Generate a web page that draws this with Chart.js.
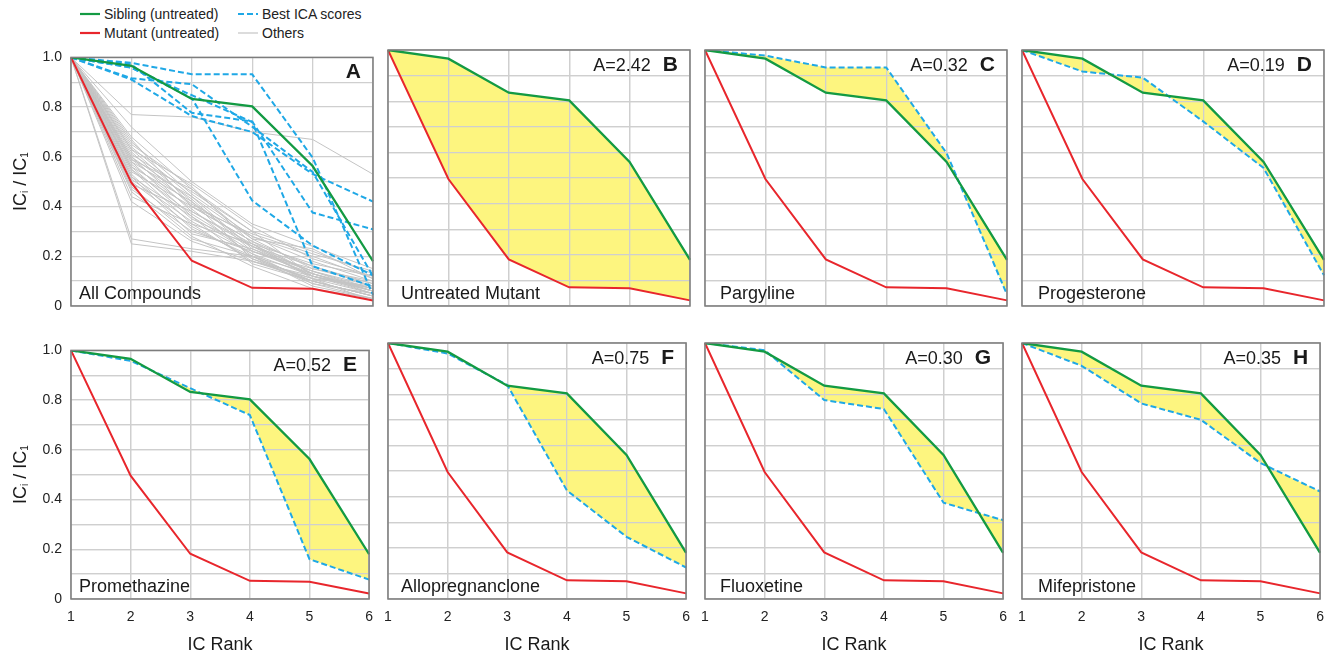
<!DOCTYPE html>
<html><head><meta charset="utf-8">
<script src="https://cdn.jsdelivr.net/npm/chart.js@4.4.1/dist/chart.umd.min.js"></script>
<style>
body{margin:0;background:#fff;width:1333px;height:655px;overflow:hidden;position:relative;font-family:"Liberation Sans",Arial,sans-serif;}
canvas{position:absolute;}
.leg{position:absolute;font-size:14px;color:#222;line-height:16px;white-space:nowrap;height:16px;}
.leg svg{display:inline-block;vertical-align:top;margin-right:4px;}
</style></head><body>
<div class="leg" style="left:80px;top:6px"><svg width="20" height="16"><line x1="0" y1="8" x2="20" y2="8" stroke="#139a43" stroke-width="2.2"/></svg>Sibling (untreated)</div>
<div class="leg" style="left:80px;top:25px"><svg width="20" height="16"><line x1="0" y1="8" x2="20" y2="8" stroke="#e8262c" stroke-width="2.2"/></svg>Mutant (untreated)</div>
<div class="leg" style="left:238px;top:6px"><svg width="20" height="16"><line x1="0" y1="8" x2="20" y2="8" stroke="#1fa8e6" stroke-width="2.2" stroke-dasharray="6 3"/></svg>Best ICA scores</div>
<div class="leg" style="left:238px;top:25px"><svg width="20" height="16"><line x1="0" y1="8" x2="20" y2="8" stroke="#c4c4c4" stroke-width="1.2"/></svg>Others</div>
<script>
// ---------- data ----------
const ranks = ['1', '2', '3', '4', '5', '6'];
const yTickLabels = ['0', '0.2', '0.4', '0.6', '0.8', '1.0'];
const sibling = [1, 0.966, 0.833, 0.803, 0.563, 0.18];
const mutant = [1, 0.496, 0.182, 0.073, 0.069, 0.022];
const pargyline = [1, 0.978, 0.932, 0.932, 0.597, 0.045];
const progesterone = [1, 0.916, 0.892, 0.721, 0.539, 0.12];
const promethazine = [1, 0.958, 0.848, 0.74, 0.16, 0.078];
const allopregnanolone = [1, 0.959, 0.836, 0.424, 0.243, 0.123];
const fluoxetine = [1, 0.972, 0.777, 0.742, 0.376, 0.308];
const mifepristone = [1, 0.911, 0.764, 0.70, 0.531, 0.42];
const others = [
  [1, 0.77, 0.76, 0.70, 0.67, 0.53],
  [1, 0.27, 0.23, 0.20, 0.13, 0.06],
  [1, 0.25, 0.22, 0.18, 0.10, 0.04],
  [1, 0.72, 0.50, 0.33, 0.24, 0.15],
  [1, 0.68, 0.47, 0.30, 0.22, 0.13],
  [1, 0.66, 0.45, 0.28, 0.20, 0.11],
  [1, 0.65, 0.48, 0.25, 0.17, 0.12],
  [1, 0.64, 0.44, 0.27, 0.15, 0.10],
  [1, 0.63, 0.42, 0.24, 0.14, 0.08],
  [1, 0.62, 0.40, 0.26, 0.16, 0.09],
  [1, 0.61, 0.46, 0.30, 0.12, 0.07],
  [1, 0.60, 0.43, 0.22, 0.13, 0.06],
  [1, 0.60, 0.38, 0.25, 0.11, 0.08],
  [1, 0.59, 0.41, 0.28, 0.18, 0.10],
  [1, 0.58, 0.36, 0.21, 0.12, 0.05],
  [1, 0.58, 0.44, 0.23, 0.14, 0.07],
  [1, 0.57, 0.39, 0.20, 0.10, 0.04],
  [1, 0.56, 0.35, 0.24, 0.12, 0.06],
  [1, 0.56, 0.42, 0.19, 0.09, 0.03],
  [1, 0.55, 0.37, 0.22, 0.15, 0.09],
  [1, 0.55, 0.33, 0.18, 0.11, 0.05],
  [1, 0.54, 0.40, 0.26, 0.13, 0.07],
  [1, 0.53, 0.31, 0.20, 0.08, 0.03],
  [1, 0.52, 0.36, 0.17, 0.10, 0.04],
  [1, 0.52, 0.29, 0.23, 0.12, 0.06],
  [1, 0.51, 0.34, 0.21, 0.09, 0.05],
  [1, 0.50, 0.32, 0.19, 0.11, 0.02],
  [1, 0.49, 0.38, 0.24, 0.16, 0.08],
  [1, 0.48, 0.28, 0.16, 0.07, 0.03],
  [1, 0.47, 0.30, 0.22, 0.14, 0.06],
  [1, 0.46, 0.27, 0.20, 0.10, 0.04],
  [1, 0.44, 0.33, 0.25, 0.13, 0.05],
  [1, 0.42, 0.26, 0.18, 0.12, 0.07],
  [1, 0.63, 0.49, 0.32, 0.19, 0.12],
  [1, 0.67, 0.40, 0.29, 0.21, 0.14],
  [1, 0.59, 0.47, 0.27, 0.23, 0.11]
];
const bestScores = [pargyline, progesterone, promethazine, allopregnanolone, fluoxetine, mifepristone];
const panelLetters = ['A', 'B', 'C', 'D', 'E', 'F', 'G', 'H'];
const panelNames = ['All Compounds', 'Untreated Mutant', 'Pargyline', 'Progesterone', 'Promethazine', 'Allopregnanclone', 'Fluoxetine', 'Mifepristone'];
const areaScores = [null, '2.42', '0.32', '0.19', '0.52', '0.75', '0.30', '0.35'];

// ---------- style ----------
const FONT = '"Liberation Sans", Arial, sans-serif';
const GREEN = '#139a43', RED = '#e8262c', BLUE = '#1fa8e6', GRAY = '#c4c4c4', YELLOW = '#fdf57f';
const GRID = '#cfcfcf';
const colLeft = [71, 388, 705, 1022];
const rowTop = [50, 343];
const PW = 302, PH = 256, YW = 70, PT = 10, PR = 10, XH = 56;
const nameOffset = [8, 13, 15, 16, 8, 13, 15, 16];

const panelText = {
  id: 'panelText',
  beforeDatasetDraw(chart, args) {
    // after the yellow fill has been painted, repaint the grid on top of it
    const ds = chart.data.datasets[args.index];
    if (ds.fill && typeof ds.fill === 'object') {
      chart.scales.x.drawGrid(chart.chartArea);
      chart.scales.y.drawGrid(chart.chartArea);
    }
  },
  afterDraw(chart, args, o) {
    const ctx = chart.ctx, a = chart.chartArea;
    ctx.save();
    ctx.strokeStyle = '#7d7d7d'; ctx.lineWidth = 1.5;
    ctx.strokeRect(a.left, a.top, a.right - a.left, a.bottom - a.top);
    ctx.fillStyle = '#1a1a1a';
    ctx.textBaseline = 'alphabetic';
    ctx.font = 'bold 21px ' + FONT;
    ctx.textAlign = 'right';
    const lx = a.right - 12;
    ctx.fillText(o.letter, lx, a.top + 21);
    const lw = ctx.measureText(o.letter).width;
    ctx.font = '18px ' + FONT;
    if (o.area) ctx.fillText('A=' + o.area, lx - lw - 12, a.top + 21);
    ctx.textAlign = 'left';
    ctx.fillText(o.name, a.left + o.nameX, a.bottom - 7);
    if (o.xTitle) {
      ctx.textAlign = 'center';
      ctx.fillText('IC Rank', (a.left + a.right) / 2, a.bottom + 51);
    }
    if (o.yTitle) {
      const parts = [['IC', 18, 0], ['i', 10, 2.5], [' / IC', 18, 0], ['1', 10, 2.5]];
      let total = 0;
      parts.forEach(p => { ctx.font = p[1] + 'px ' + FONT; total += ctx.measureText(p[0]).width; });
      ctx.translate(a.left - 45.5, (a.top + a.bottom) / 2);
      ctx.rotate(-Math.PI / 2);
      ctx.textAlign = 'left';
      let x = -total / 2;
      parts.forEach(p => {
        ctx.font = p[1] + 'px ' + FONT;
        ctx.fillText(p[0], x, p[2]);
        x += ctx.measureText(p[0]).width;
      });
    }
    ctx.restore();
  }
};

function lineDs(data, color, width, extra) {
  return Object.assign({ data: data, borderColor: color, borderWidth: width, pointRadius: 0, tension: 0, fill: false }, extra || {});
}

for (let i = 0; i < 8; i++) {
  const col = i % 4, row = Math.floor(i / 4);
  const cv = document.createElement('canvas');
  cv.width = YW + PW + PR; cv.height = PT + PH + XH;
  cv.style.left = (colLeft[col] - YW) + 'px';
  cv.style.top = (rowTop[row] - PT) + 'px';
  document.body.appendChild(cv);

  let datasets = [lineDs(sibling, GREEN, 2.3)];
  if (i === 0) {
    datasets.push(lineDs(mutant, RED, 2));
    bestScores.forEach(s => datasets.push(lineDs(s, BLUE, 2, { borderDash: [6, 3] })));
    others.forEach(s => datasets.push(lineDs(s, GRAY, 1)));
  } else if (i === 1) {
    datasets.push(lineDs(mutant, RED, 2, { fill: { target: 0, above: YELLOW, below: YELLOW }, backgroundColor: YELLOW }));
  } else {
    datasets.push(lineDs(mutant, RED, 2));
    datasets.push(lineDs(bestScores[i - 2], BLUE, 2, { borderDash: [6, 3], fill: { target: 0, above: YELLOW, below: YELLOW }, backgroundColor: YELLOW }));
  }

  new Chart(cv, {
    type: 'line',
    data: { labels: ranks, datasets: datasets },
    plugins: [panelText],
    options: {
      responsive: false, animation: false, events: [],
      layout: { padding: { top: PT, right: PR, left: 0, bottom: 0 } },
      plugins: {
        legend: { display: false }, tooltip: { enabled: false },
        panelText: { letter: panelLetters[i], name: panelNames[i], area: areaScores[i], nameX: nameOffset[i], xTitle: row === 1, yTitle: col === 0 }
      },
      scales: {
        x: {
          type: 'category', offset: false,
          grid: { color: GRID, lineWidth: 1.3, drawTicks: false },
          border: { display: false },
          ticks: { display: row === 1, padding: 10, color: '#222', font: { size: 14, family: FONT }, maxRotation: 0 },
          afterFit(s) { s.height = XH; }
        },
        y: {
          min: 0, max: 1,
          grid: { color: GRID, lineWidth: 1.3, drawTicks: false },
          border: { display: false },
          ticks: {
            display: col === 0, stepSize: 0.1, autoSkip: false, padding: 9, color: '#222', font: { size: 14, family: FONT },
            callback: (v) => { const k = Math.round(v * 10); return k % 2 === 0 ? yTickLabels[k / 2] : ''; }
          },
          afterFit(s) { s.width = YW; }
        }
      }
    }
  });
}
</script>
</body></html>
